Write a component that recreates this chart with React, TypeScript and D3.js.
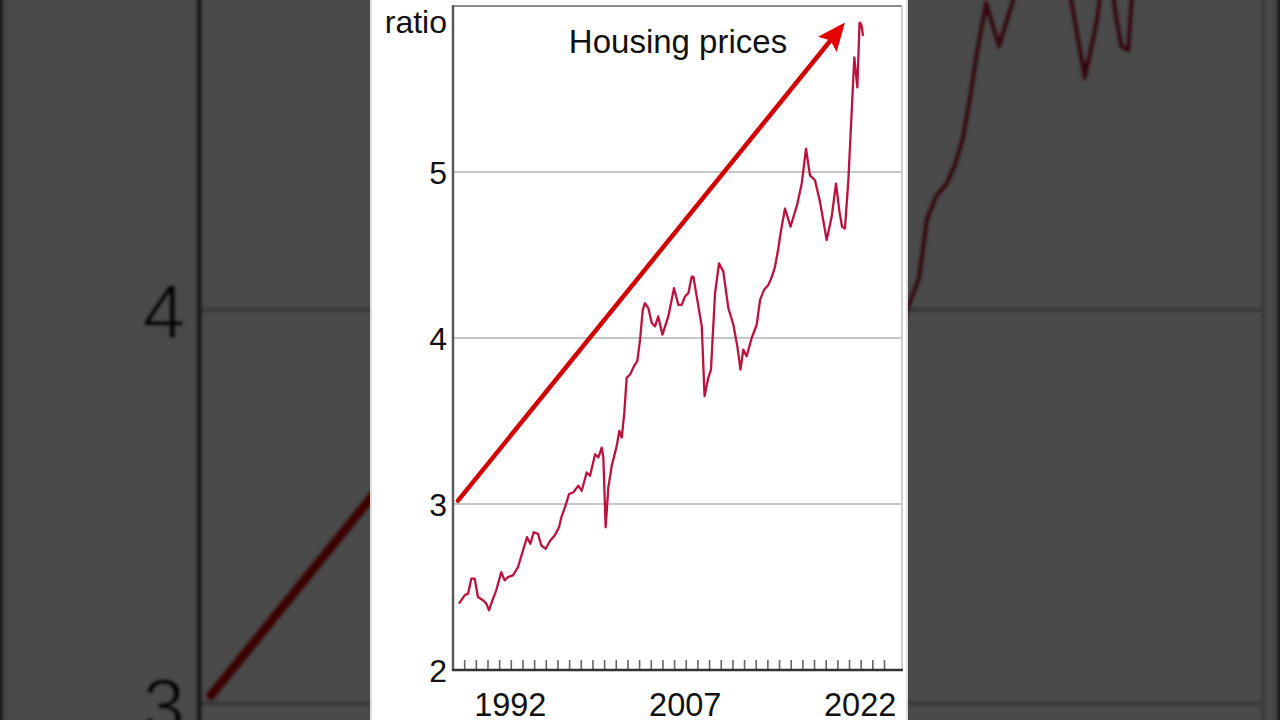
import React from "react";
import * as d3 from "d3";

// Housing price ratio (decimal year, ratio)
const YEARS = [
  1987.51, 1988.0, 1988.29, 1988.57, 1988.86, 1989.14, 1989.57, 1989.86, 1990.09, 1990.43,
  1990.71, 1991.14, 1991.43, 1991.72, 1992.14, 1992.57, 1993.0, 1993.35, 1993.63, 1993.92,
  1994.29, 1994.57, 1994.95, 1995.34, 1995.72, 1996.09, 1996.29, 1996.6, 1996.95, 1997.32,
  1997.74, 1998.04, 1998.46, 1998.75, 1999.18, 1999.46, 1999.75, 1999.89, 2000.09, 2000.32,
  2000.61, 2001.04, 2001.26, 2001.47, 2001.69, 2001.89, 2002.18, 2002.52, 2002.8, 2003.04,
  2003.27, 2003.46, 2003.75, 2004.04, 2004.32, 2004.6, 2004.96, 2005.46, 2005.95, 2006.32,
  2006.61, 2006.89, 2007.18, 2007.47, 2007.61, 2007.95, 2008.33, 2008.57, 2008.89, 2009.12,
  2009.47, 2009.81, 2010.18, 2010.61, 2011.04, 2011.38, 2011.65, 2011.89, 2012.18, 2012.61,
  2013.04, 2013.33, 2013.67, 2014.04, 2014.35, 2014.61, 2014.87, 2015.13, 2015.47, 2015.94,
  2016.5, 2016.9, 2017.27, 2017.61, 2018.04, 2018.47, 2019.04, 2019.47, 2019.84, 2020.14,
  2020.36, 2020.61, 2020.9, 2021.19, 2021.41, 2021.67, 2021.86, 2022.01, 2022.16,
];
const RATIO = [
  2.4, 2.45, 2.46, 2.55, 2.55, 2.44, 2.42, 2.4, 2.36, 2.43,
  2.48, 2.59, 2.54, 2.56, 2.57, 2.62, 2.72, 2.8, 2.76, 2.83,
  2.82, 2.75, 2.73, 2.78, 2.81, 2.86, 2.92, 2.98, 3.06, 3.07,
  3.11, 3.08, 3.19, 3.17, 3.3, 3.28, 3.34, 3.28, 2.86, 3.1,
  3.23, 3.35, 3.44, 3.4, 3.55, 3.76, 3.78, 3.83, 3.86, 3.99,
  4.17, 4.21, 4.18, 4.09, 4.07, 4.13, 4.02, 4.13, 4.3, 4.2,
  4.2, 4.25, 4.27, 4.37, 4.37, 4.23, 4.07, 3.65, 3.76, 3.81,
  4.27, 4.45, 4.4, 4.18, 4.08, 3.95, 3.81, 3.93, 3.89, 4.0,
  4.08, 4.23, 4.29, 4.32, 4.37, 4.43, 4.53, 4.65, 4.78, 4.67,
  4.8, 4.93, 5.14, 4.98, 4.95, 4.82, 4.59, 4.73, 4.93, 4.76,
  4.67, 4.66, 4.95, 5.37, 5.69, 5.51, 5.9, 5.89, 5.82,
];

const Y_TICKS = [2, 3, 4, 5];
const GRID_VALUES = [3, 4, 5];
const X_LABELS = [1992, 2007, 2022];
const X_TICK_YEARS = d3.range(1988, 2025);
const Y_TITLE = "ratio";
const ANNOTATION = "Housing prices";
const ARROW_YEARS = [1987.43, 2020.61];
const ARROW_VALUES = [3.02, 5.9];

const FONT = "'Liberation Sans', Arial, Helvetica, sans-serif";

const PANEL_X0 = 370;
const PANEL_X1 = 908;
const PLOT_L = 453;
const PLOT_R = 902;
const PLOT_T = 6;
const PLOT_B = 670;

const x = d3.scaleLinear().domain([1987, 2025.5]).range([PLOT_L, PLOT_R]);
const y = d3.scaleLinear().domain([2, 6]).range([PLOT_B, PLOT_T]);

function Panel() {
  const pts: [number, number][] = YEARS.map((yr, i) => [yr, RATIO[i]]);
  const line = d3
    .line<[number, number]>()
    .x((d) => x(d[0]))
    .y((d) => y(d[1]));

  const ax0 = x(ARROW_YEARS[0]);
  const ay0 = y(ARROW_VALUES[0]);
  const ax1 = x(ARROW_YEARS[1]);
  const ay1 = y(ARROW_VALUES[1]);
  const len = Math.hypot(ax1 - ax0, ay1 - ay0);
  const ux = (ax1 - ax0) / len;
  const uy = (ay1 - ay0) / len;
  const headLen = 28;
  const headHalf = 12;
  const bx = ax1 - ux * headLen;
  const by = ay1 - uy * headLen;
  const head = [
    [ax1, ay1],
    [bx - uy * headHalf, by + ux * headHalf],
    [bx + ux * 5, by + uy * 5],
    [bx + uy * headHalf, by - ux * headHalf],
  ]
    .map((p) => p.join(","))
    .join(" ");

  return (
    <g>
      <rect x={PANEL_X0} y={0} width={PANEL_X1 - PANEL_X0} height={720} fill="#ffffff" />
      <line x1={PANEL_X0 + 1} x2={PANEL_X0 + 1} y1={0} y2={720} stroke="#dcdcdc" strokeWidth={2} />
      <line x1={PANEL_X1 - 1} x2={PANEL_X1 - 1} y1={0} y2={720} stroke="#dcdcdc" strokeWidth={2} />

      {GRID_VALUES.map((v) => (
        <line key={v} x1={PLOT_L} x2={PLOT_R} y1={y(v)} y2={y(v)} stroke="#c6c6c6" strokeWidth={2} />
      ))}
      <line x1={PLOT_L} x2={PLOT_R} y1={PLOT_T} y2={PLOT_T} stroke="#8c8c8c" strokeWidth={2} />
      <line x1={PLOT_R} x2={PLOT_R} y1={PLOT_T} y2={PLOT_B} stroke="#cfcfcf" strokeWidth={2} />

      {X_TICK_YEARS.map((yr) => (
        <line key={yr} x1={x(yr)} x2={x(yr)} y1={PLOT_B - 10} y2={PLOT_B} stroke="#666" strokeWidth={1.6} />
      ))}
      <line x1={PLOT_L} x2={PLOT_L} y1={PLOT_T - 1} y2={PLOT_B + 1} stroke="#5a5a5a" strokeWidth={2.5} />
      <line x1={PLOT_L - 1} x2={PLOT_R + 1} y1={PLOT_B} y2={PLOT_B} stroke="#333" strokeWidth={2.5} />

      {Y_TICKS.map((v) => (
        <text
          key={v}
          x={PLOT_L - 6}
          y={y(v) + 12}
          textAnchor="end"
          fontFamily={FONT}
          fontSize={32}
          fill="#111"
        >
          {v}
        </text>
      ))}
      <text x={PLOT_L - 6} y={33} textAnchor="end" fontFamily={FONT} fontSize={32} fill="#111">
        {Y_TITLE}
      </text>
      {X_LABELS.map((yr) => (
        <text
          key={yr}
          x={x(yr) - 1}
          y={716}
          textAnchor="middle"
          fontFamily={FONT}
          fontSize={32.5}
          fill="#111"
        >
          {yr}
        </text>
      ))}

      <path d={line(pts) || ""} fill="none" stroke="#bc1240" strokeWidth={2.3} strokeLinejoin="round" />

      <line x1={ax0} y1={ay0} x2={bx + ux * 4} y2={by + uy * 4} stroke="#d20000" strokeWidth={4.5} strokeLinecap="round" />
      <polygon points={head} fill="#e60000" />

      <text x={678} y={53} textAnchor="middle" fontFamily={FONT} fontSize={33} fill="#111">
        {ANNOTATION}
      </text>
    </g>
  );
}

export default function App() {
  const s = 2.37;
  return (
    <div style={{ position: "fixed", left: 0, top: 0, width: 1280, height: 720 }}>
      <svg width={1280} height={720} style={{ display: "block" }}>
        <defs>
          <filter id="soft" x="-10%" y="-10%" width="120%" height="120%">
            <feGaussianBlur stdDeviation={0.7} />
          </filter>
        </defs>
        <rect x={0} y={0} width={1280} height={720} fill="#4a4a4a" />
        <g transform={`translate(640 362) scale(${s}) translate(-639 -360)`} filter="url(#soft)">
          <Panel />
        </g>
        <rect x={0} y={0} width={1280} height={720} fill="#000" opacity={0.71} />
        <Panel />
      </svg>
    </div>
  );
}
